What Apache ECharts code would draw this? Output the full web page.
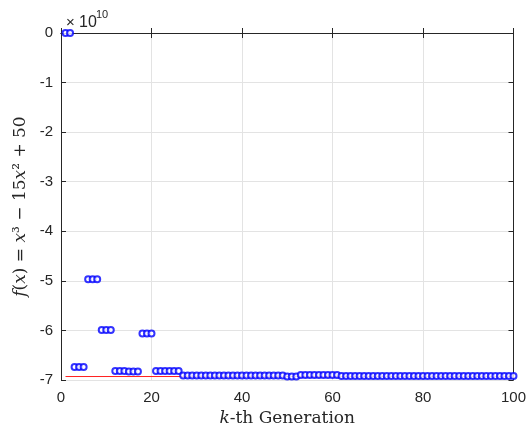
<!DOCTYPE html>
<html>
<head>
<meta charset="utf-8">
<script src="https://cdn.jsdelivr.net/npm/echarts@6/dist/echarts.min.js"></script>
<style>html,body{margin:0;padding:0;background:#fff}#c{width:529px;height:439px}</style>
</head>
<body>
<div id="c"></div>
<script>
// values in units of 1e10
var generations = [];
for (var g = 1; g <= 100; g++) generations.push(g);
var fitness = [
  0.0, 0.0,
  -6.74, -6.74, -6.74,
  -4.97, -4.97, -4.97,
  -5.99, -5.99, -5.99,
  -6.82, -6.82, -6.82, -6.83, -6.83, -6.83,
  -6.06, -6.06, -6.06,
  -6.82, -6.82, -6.82, -6.82, -6.82, -6.82,
  -6.91, -6.91, -6.91, -6.91, -6.91, -6.91, -6.91, -6.91, -6.91, -6.91,
  -6.91, -6.91, -6.91, -6.91, -6.91, -6.91, -6.91, -6.91, -6.91, -6.91,
  -6.91, -6.91, -6.91,
  -6.93, -6.93, -6.93,
  -6.90, -6.90, -6.90, -6.90, -6.90, -6.90, -6.90, -6.90, -6.90,
  -6.92, -6.92, -6.92, -6.92, -6.92, -6.92, -6.92, -6.92, -6.92, -6.92,
  -6.92, -6.92, -6.92, -6.92, -6.92, -6.92, -6.92, -6.92, -6.92, -6.92,
  -6.92, -6.92, -6.92, -6.92, -6.92, -6.92, -6.92, -6.92, -6.92, -6.92,
  -6.92, -6.92, -6.92, -6.92, -6.92, -6.92, -6.92, -6.92, -6.92
];
var optimumX = [1, 100];
var optimumY = [-6.93, -6.93];
var xTicks = [0, 20, 40, 60, 80, 100];
var yTicks = [-7, -6, -5, -4, -3, -2, -1, 0];

var pts = generations.map(function (g, i) { return [g, fitness[i]]; });
var optLine = optimumX.map(function (x, i) { return [x, optimumY[i]]; });

var axisCol = '#262626';
var chart = echarts.init(document.getElementById('c'));
chart.setOption({
  animation: false,
  grid: { left: 61, right: 13, top: 33, bottom: 59 },
  xAxis: [{
    type: 'value', min: xTicks[0], max: xTicks[xTicks.length - 1], interval: 20,
    axisLine: { lineStyle: { color: axisCol, width: 1 } },
    axisTick: { inside: true, length: 5, lineStyle: { color: axisCol } },
    axisLabel: { color: '#262626', fontFamily: 'Liberation Sans', fontSize: 15, margin: 10 },
    splitLine: { show: true, lineStyle: { color: '#e3e3e3', width: 1 } },
    name: '{i|k}{n|-th Generation}', nameLocation: 'middle', nameGap: 27,
    nameTextStyle: { rich: {
      i: { fontFamily: 'DejaVu Serif', fontStyle: 'italic', fontSize: 17, color: '#262626' },
      n: { fontFamily: 'DejaVu Serif', fontSize: 17, color: '#262626' }
    } }
  }, {
    type: 'value', position: 'top', min: 0, max: 100, interval: 20,
    axisLine: { show: true, onZero: false, lineStyle: { color: axisCol, width: 1 } },
    axisTick: { inside: true, length: 5, lineStyle: { color: axisCol } },
    axisLabel: { show: false }, splitLine: { show: false }
  }],
  yAxis: [{
    type: 'value', min: yTicks[0], max: yTicks[yTicks.length - 1], interval: 1,
    axisLine: { show: true, onZero: false, lineStyle: { color: axisCol, width: 1 } },
    axisTick: { show: true, inside: true, length: 5, lineStyle: { color: axisCol } },
    axisLabel: { color: '#262626', fontFamily: 'Liberation Sans', fontSize: 15, margin: 8,
      formatter: function (v) { return String(v); } },
    splitLine: { show: true, lineStyle: { color: '#e3e3e3', width: 1 } },
    name: '{i|f}{n|(}{i|x}{n|) = }{i|x}{n|³ − 15}{i|x}{n|² + 50}', nameLocation: 'middle', nameGap: 26,
    nameTextStyle: { rich: {
      i: { fontFamily: 'DejaVu Serif', fontStyle: 'italic', fontSize: 17, color: '#262626' },
      n: { fontFamily: 'DejaVu Serif', fontSize: 17, color: '#262626' }
    } }
  }, {
    type: 'value', position: 'right', min: -7, max: 0, interval: 1,
    axisLine: { show: true, onZero: false, lineStyle: { color: axisCol, width: 1 } },
    axisTick: { show: true, inside: true, length: 5, lineStyle: { color: axisCol } },
    axisLabel: { show: false }, splitLine: { show: false }
  }],
  graphic: [
    { type: 'text', left: 66, top: 15, style: { text: '×', fontFamily: 'Liberation Sans', fontSize: 15, fill: '#262626' } },
    { type: 'text', left: 79, top: 15, style: { text: '10', fontFamily: 'Liberation Sans', fontSize: 16, fill: '#262626' } },
    { type: 'text', left: 96, top: 9, style: { text: '10', fontFamily: 'Liberation Sans', fontSize: 11, fill: '#262626' } }
  ],
  series: [{
    type: 'line', data: optLine, symbol: 'none', z: 2,
    lineStyle: { color: '#ff2020', width: 1 }
  }, {
    type: 'scatter', data: pts, symbol: 'emptyCircle', symbolSize: 6, clip: false, z: 3,
    itemStyle: { color: '#0000ff', borderColor: '#0000ff', borderWidth: 1 }
  }]
});
</script>
</body>
</html>
